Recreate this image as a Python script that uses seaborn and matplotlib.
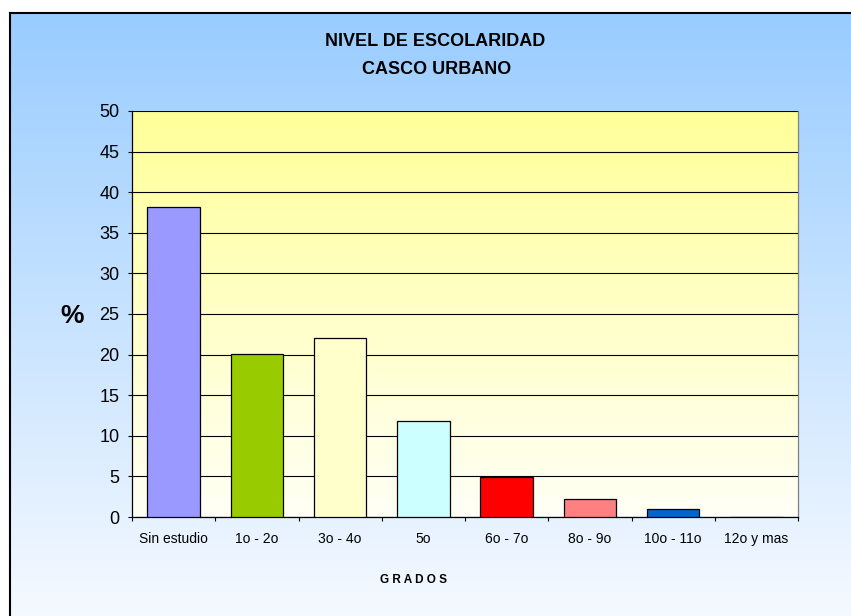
import numpy as np
import matplotlib
matplotlib.use("Agg")
import matplotlib.pyplot as plt
import seaborn as sns

categories = ["Sin estudio", "1o - 2o", "3o - 4o", "5o", "6o - 7o", "8o - 9o", "10o - 11o", "12o y mas"]
percentages = [38.2, 20.1, 22.0, 11.8, 4.9, 2.2, 1.0, 0.0]
bar_colors = ["#9999FF", "#99CC00", "#FFFFCC", "#CCFFFF", "#FF0000", "#FF8080", "#0066CC", "#FFFFFF"]
y_ticks = list(range(0, 55, 5))

title_lines = ["NIVEL DE ESCOLARIDAD", "CASCO URBANO"]
x_label = "G R A D O S"
y_label = "%"

W, H = 851, 616


def gradient(top_rgb, bottom_rgb, n=256):
    top = np.array(top_rgb) / 255.0
    bottom = np.array(bottom_rgb) / 255.0
    t = np.linspace(0, 1, n)[:, None]
    col = top * (1 - t) + bottom * t
    return col[:, None, :]


def main():
    sns.set_style("white")
    plt.rcParams["font.family"] = ["Liberation Sans", "DejaVu Sans"]
    for key in ["text.color", "axes.labelcolor", "xtick.color", "ytick.color"]:
        plt.rcParams[key] = "black"

    fig = plt.figure(figsize=(W / 100, H / 100), dpi=100)
    fig.patch.set_facecolor("white")

    # outer chart area with blue gradient and frame
    bg = fig.add_axes([10 / W, -0.05, 1.0, (H - 13) / H + 0.05])
    bg.imshow(gradient((153, 204, 255), (250, 252, 255)), extent=[0, 1, 0, 1], aspect="auto")
    bg.set_xlim(0, 1)
    bg.set_ylim(0, 1)
    bg.set_xticks([])
    bg.set_yticks([])
    for side in ["bottom", "right"]:
        bg.spines[side].set_visible(False)
    for side in ["top", "left"]:
        bg.spines[side].set_color("black")
        bg.spines[side].set_linewidth(1.5)
    bg.set_zorder(-1)

    # plot area
    left, right, top, bottom = 132, 798, 111, 517
    ax = fig.add_axes([left / W, (H - bottom) / H, (right - left) / W, (bottom - top) / H])
    ax.patch.set_visible(False)

    sns.barplot(
        x=categories, y=percentages, hue=categories, palette=bar_colors,
        legend=False, width=0.63, saturation=1, edgecolor="black",
        linewidth=0.9, ax=ax, zorder=3,
    )

    ax.imshow(gradient((255, 255, 153), (255, 255, 246)),
              extent=[-0.5, len(categories) - 0.5, 0, 50], aspect="auto", zorder=0)
    ax.set_xlim(-0.5, len(categories) - 0.5)
    ax.set_ylim(0, 50)

    ax.set_yticks(y_ticks)
    ax.yaxis.grid(True, color="black", linewidth=0.8, zorder=1)
    ax.set_axisbelow(True)
    ax.tick_params(axis="y", which="major", direction="out", length=3, width=0.8,
                   left=True, pad=6, labelsize=13)
    ax.set_xticks(np.arange(-0.5, len(categories), 1), minor=True)
    ax.tick_params(axis="x", which="major", length=0, pad=11, labelsize=10)
    ax.tick_params(axis="x", which="minor", direction="out", length=3, width=0.8, bottom=True)

    ax.spines["left"].set_color("black")
    ax.spines["bottom"].set_color("black")
    ax.spines["left"].set_linewidth(0.9)
    ax.spines["bottom"].set_linewidth(0.9)
    ax.spines["top"].set_visible(False)
    ax.spines["right"].set_color("#808080")
    ax.spines["right"].set_linewidth(0.9)
    ax.set_xlabel("")
    ax.set_ylabel("")

    fig.text(435 / W, 1 - 42 / H, title_lines[0], ha="center", va="center",
             fontsize=13, fontweight="bold")
    fig.text(437 / W, 1 - 69 / H, title_lines[1], ha="center", va="center",
             fontsize=13, fontweight="bold")
    fig.text(72 / W, 1 - 316 / H, y_label, ha="center", va="center",
             fontsize=19, fontweight="bold")
    fig.text(414 / W, 1 - 580 / H, x_label, ha="center", va="center",
             fontsize=8.5, fontweight="bold")

    fig.savefig("out.png", dpi=100)
    plt.close(fig)


if __name__ == "__main__":
    main()
